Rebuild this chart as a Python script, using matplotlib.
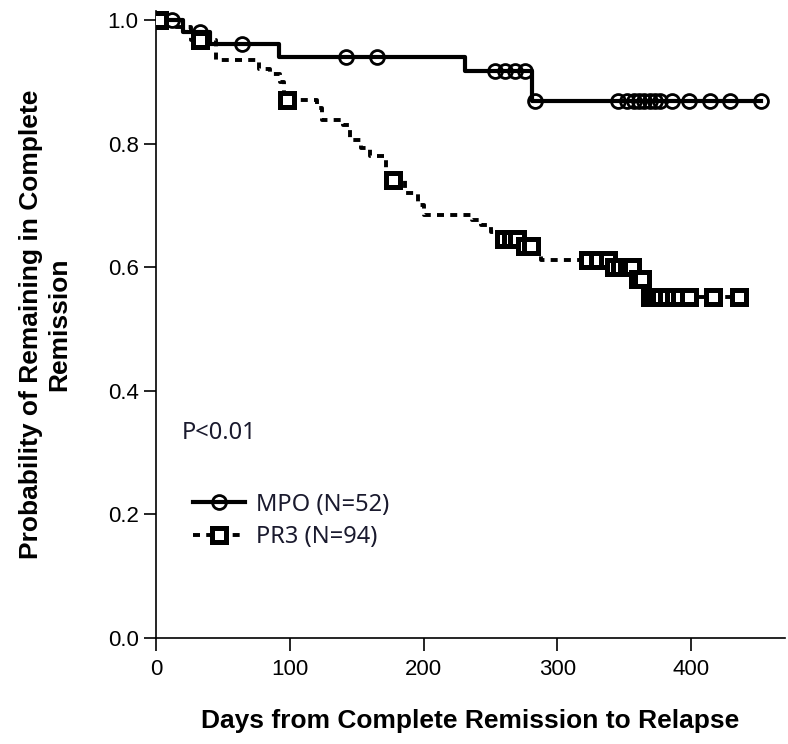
import matplotlib
matplotlib.use('Agg')
import matplotlib.pyplot as plt

# Kaplan-Meier steps (days, survival)
mpo_t = [0, 20, 40, 92, 231, 281, 452]
mpo_s = [1.0, 0.981, 0.962, 0.940, 0.917, 0.869, 0.869]
mpo_cens_t = [12, 33, 64, 142, 165, 253, 261, 268, 276, 283,
              345, 352, 357, 361, 365, 369, 373, 377, 386, 398, 414, 429, 452]
mpo_cens_s = [1.0, 0.981, 0.962, 0.940, 0.940, 0.917, 0.917, 0.917, 0.917, 0.869,
              0.869, 0.869, 0.869, 0.869, 0.869, 0.869, 0.869, 0.869, 0.869, 0.869, 0.869, 0.869, 0.869]

pr3_t = [0, 15, 26, 45, 77, 85, 93, 96, 120, 124, 140, 145, 153, 160, 172, 186, 196, 200,
         236, 243, 250, 257, 274, 284, 288, 334, 357, 366, 436]
pr3_s = [1.0, 0.989, 0.968, 0.935, 0.920, 0.913, 0.900, 0.870, 0.857, 0.838, 0.830, 0.806,
         0.793, 0.780, 0.741, 0.720, 0.700, 0.684, 0.676, 0.668, 0.657, 0.645, 0.635, 0.625,
         0.612, 0.600, 0.581, 0.552, 0.552]
pr3_cens_t = [2, 33, 98, 177, 260, 265, 270, 276, 280, 323, 330, 338, 342, 347, 352, 356,
              360, 363, 369, 373, 377, 382, 387, 392, 398, 416, 436]
pr3_cens_s = [1.0, 0.968, 0.870, 0.741, 0.645, 0.645, 0.645, 0.635, 0.635, 0.612, 0.612,
              0.612, 0.600, 0.600, 0.600, 0.600, 0.581, 0.581, 0.552, 0.552, 0.552, 0.552,
              0.552, 0.552, 0.552, 0.552, 0.552]

yticks = [0.0, 0.2, 0.4, 0.6, 0.8, 1.0]
xticks = [0, 100, 200, 300, 400]

lab_font = 'Liberation Sans'
txt_font = 'Noto Sans'
txt_col = '#1a1a2e'

fig = plt.figure(figsize=(7.88, 7.44), dpi=100)
ax = fig.add_axes([0.198, 0.1425, 0.798, 0.843])

ax.step(mpo_t, mpo_s, where='post', color='black', lw=3, zorder=3)
ax.plot(mpo_cens_t, mpo_cens_s, ls='none', marker='o', ms=10, mfc='none',
        mec='black', mew=2, zorder=4)

ax.step(pr3_t, pr3_s, where='post', color='black', lw=2.8, ls=(0, (1.8, 1.6)), zorder=3)
ax.plot(pr3_cens_t, pr3_cens_s, ls='none', marker='s', ms=10.5, mfc='white',
        mec='black', mew=3.6, zorder=4)

ax.set_xlim(0, 470)
ax.set_ylim(0, 1.015)
ax.set_xticks(xticks)
ax.set_yticks(yticks)
ax.set_yticklabels([f'{v:.1f}' for v in yticks])
ax.spines['top'].set_visible(False)
ax.spines['right'].set_visible(False)
ax.spines['left'].set_linewidth(1.2)
ax.spines['bottom'].set_linewidth(1.2)
ax.tick_params(direction='out', length=9, width=1.2, labelsize=16)
ax.tick_params(axis='x', pad=6)
for lab in ax.get_xticklabels() + ax.get_yticklabels():
    lab.set_family(lab_font)

ax.set_xlabel('Days from Complete Remission to Relapse', fontsize=19, fontweight='bold',
              family=lab_font, labelpad=21)
ax.set_ylabel('Probability of Remaining in Complete\nRemission', fontsize=19,
              fontweight='bold', family=lab_font, labelpad=26, linespacing=1.25)

ax.text(19, 0.322, 'P<0.01', fontsize=17, color=txt_col, family=txt_font)

# hand-made legend like the original
h1, = ax.plot([], [], color='black', lw=3, marker='o', ms=10, mfc='none', mew=2)
h2, = ax.plot([], [], color='black', lw=2.8, ls=(0, (1.8, 1.6)), marker='s', ms=10.5,
              mfc='white', mew=3.6)
leg = ax.legend([h1, h2], ['MPO (N=52)', 'PR3 (N=94)'], loc='lower left',
                bbox_to_anchor=(0.025, 0.108), frameon=False, handlelength=2.2,
                handletextpad=0.45, labelspacing=0.35, labelcolor=txt_col,
                prop={'family': txt_font, 'size': 17})

fig.savefig('out.png', dpi=100)
